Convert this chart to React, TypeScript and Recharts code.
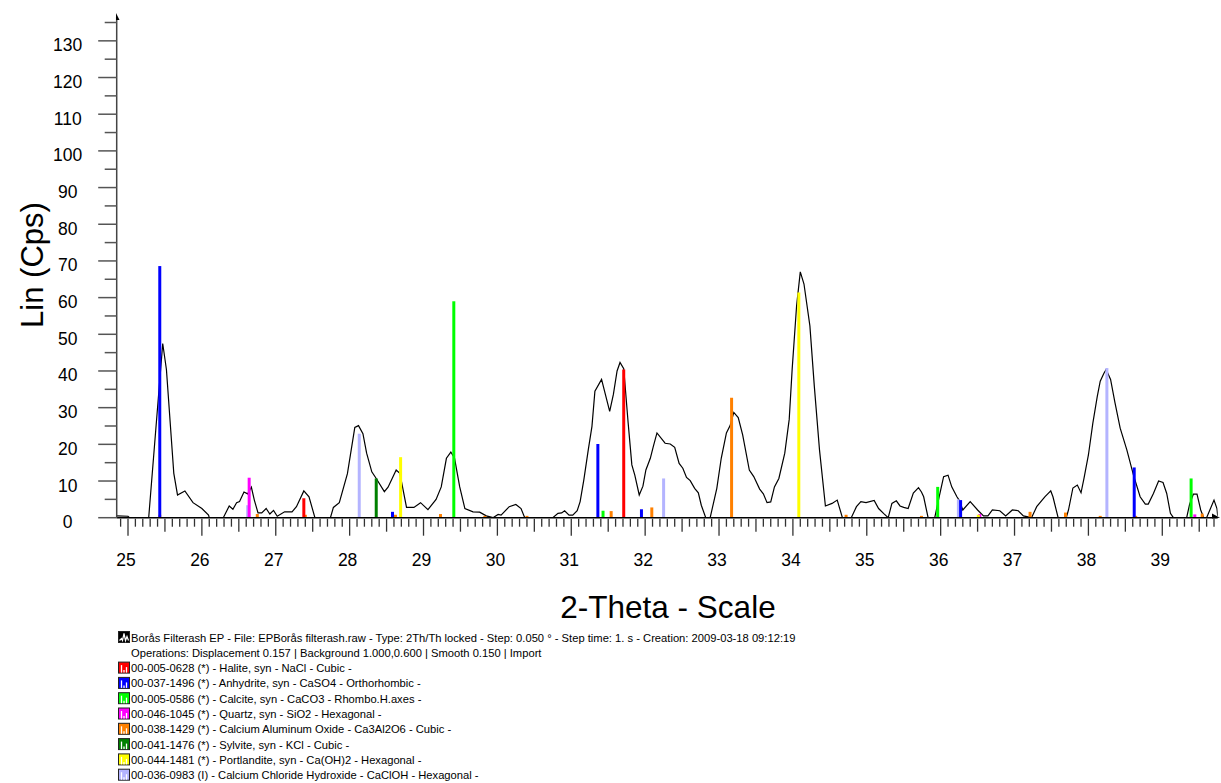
import React from 'react';
import { ComposedChart, Line, XAxis, YAxis, ReferenceLine } from 'recharts';

// ---- measured scan (2-Theta, Lin Cps) ----
const thetaValues = [
  24.85, 25.0, 25.02, 25.28, 25.47, 25.52, 25.62, 25.67, 25.77, 25.88, 26.0, 26.09, 26.1, 26.29, 26.37, 26.42,
  26.47, 26.51, 26.57, 26.62, 26.67, 26.71, 26.76, 26.81, 26.87, 26.92, 26.97, 27.02, 27.12, 27.22, 27.28,
  27.38, 27.45, 27.53, 27.74, 27.78, 27.86, 27.97, 28.07, 28.12, 28.18, 28.23, 28.3, 28.36, 28.47, 28.52,
  28.63, 28.68, 28.77, 28.87, 28.96, 29.06, 29.17, 29.24, 29.31, 29.37, 29.42, 29.49, 29.56, 29.67, 29.76,
  29.85, 29.94, 30.01, 30.05, 30.16, 30.25, 30.32, 30.37, 30.75, 30.82, 30.87, 30.91, 30.97, 31.02, 31.08,
  31.12, 31.17, 31.23, 31.28, 31.32, 31.41, 31.52, 31.57, 31.62, 31.66, 31.71, 31.77, 31.82, 31.86, 31.92,
  31.97, 32.01, 32.07, 32.11, 32.16, 32.27, 32.34, 32.4, 32.46, 32.51, 32.56, 32.61, 32.67, 32.72, 32.76,
  32.82, 32.88, 32.97, 33.03, 33.1, 33.15, 33.2, 33.26, 33.32, 33.41, 33.47, 33.55, 33.6, 33.65, 33.7,
  33.75, 33.81, 33.89, 33.95, 33.99, 34.05, 34.1, 34.15, 34.23, 34.29, 34.36, 34.44, 34.53, 34.6, 34.67,
  34.79, 34.86, 34.92, 34.99, 35.1, 35.16, 35.23, 35.29, 35.34, 35.4, 35.45, 35.5, 35.56, 35.63, 35.7,
  35.74, 35.77, 35.83, 35.92, 35.97, 36.04, 36.1, 36.15, 36.22, 36.25, 36.3, 36.4, 36.5, 36.58, 36.64,
  36.7, 36.8, 36.88, 36.97, 37.05, 37.12, 37.23, 37.3, 37.41, 37.49, 37.52, 37.59, 37.7, 37.73, 37.79,
  37.85, 37.9, 37.94, 38.0, 38.06, 38.12, 38.16, 38.21, 38.24, 38.3, 38.36, 38.43, 38.52, 38.61, 38.7,
  38.77, 38.81, 38.88, 38.95, 39.01, 39.06, 39.11, 39.15, 39.33, 39.37, 39.42, 39.47, 39.52, 39.56, 39.6,
  39.7, 39.74, 39.75,
];
const intensityValues = [
  0.5, 0.4, 0, 0, 47.5, 40.4, 12.1, 6.2, 7.3, 4.1, 2.5, 0.7, 0, 0, 3.2, 2.3,
  4.1, 4.4, 7.0, 6.5, 8.3, 4.8, 1.3, 1.3, 2.5, 1.0, 2.0, 0.4, 1.6, 1.6, 3.0,
  7.3, 5.7, 0, 0, 2.8, 4.1, 12.0, 24.6, 25.1, 22.9, 17.6, 12.5, 10.7, 7.1, 8.3,
  13.0, 12.1, 2.8, 2.8, 4.1, 2.2, 5.0, 8.4, 16.2, 17.9, 16.2, 8.4, 2.5, 1.6, 1.5,
  0.5, 0, 0.9, 0.7, 3.0, 3.6, 2.5, 0, 0, 1.2, 1.3, 1.9, 0.7, 0.7, 1.9,
  4.4, 10.3, 18.5, 24.9, 34.5, 37.7, 29.0, 33.6, 40.0, 42.3, 40.6, 25.8, 14.4, 11.6, 6.2,
  8.6, 13.0, 16.2, 19.4, 23.1, 20.3, 20.1, 19.2, 14.8, 13.5, 11.0, 10.1, 8.0, 6.8, 3.4,
  0, 0, 8.0, 16.2, 23.1, 25.1, 28.7, 27.3, 22.6, 13.0, 11.2, 7.8, 6.5, 4.1, 4.3,
  8.4, 10.7, 17.6, 26.8, 40.5, 57.8, 67.0, 63.7, 52.3, 35.8, 18.5, 3.2, 3.9, 4.8, 0,
  0, 3.0, 4.4, 4.1, 4.7, 2.5, 1.1, 0, 3.9, 4.6, 3.2, 2.8, 2.5, 6.7, 8.2,
  7.0, 5.7, 0, 0, 4.8, 11.2, 11.6, 8.4, 5.7, 4.8, 2.1, 4.4, 2.1, 0.5, 0.5,
  2.1, 1.9, 0.5, 2.1, 1.9, 0.5, 0, 3.0, 5.7, 7.3, 5.7, 0, 0, 2.1, 8.1,
  8.9, 6.8, 10.7, 17.1, 25.8, 33.1, 37.2, 39.4, 40.4, 37.7, 31.3, 24.4, 18.5, 11.6, 5.7,
  3.7, 3.7, 6.6, 10.0, 9.6, 6.6, 1.2, 0, 0, 3.7, 6.4, 6.4, 2.1, 0, 0,
  4.8, 2.5, 0.5,
];

// ---- reference patterns (stick positions / heights) ----
const halitePos = [27.38, 31.71];
const haliteInt = [5.3, 40.4];
const anhydritePos = [25.43, 28.58, 31.36, 31.95, 36.27, 38.62];
const anhydriteInt = [68.6, 1.6, 20.1, 2.3, 4.8, 13.7];
const calcitePos = [29.41, 31.43, 35.96, 39.39];
const calciteInt = [59.0, 1.9, 8.4, 10.7];
const quartzPos = [26.64, 36.53, 39.44];
const quartzInt = [10.9, 1.0, 0.9];
const caoPos = [25.43, 26.75, 27.4, 28.62, 29.23, 29.83, 30.4, 31.54, 32.09, 33.17, 34.72, 35.74, 37.21, 37.69, 38.16, 38.64, 39.54];
const caoInt = [0.8, 1.0, 0.8, 0.8, 1.0, 0.5, 0.5, 1.8, 2.8, 32.7, 0.8, 0.5, 1.6, 1.4, 0.5, 0.5, 1.1];
const sylvitePos = [28.36];
const sylviteInt = [10.7];
const portlanditePos = [28.69, 34.08, 36.51];
const portlanditeInt = [16.5, 61.4, 0.8];
const caclohPos = [26.62, 28.13, 32.25, 36.24, 38.25];
const caclohInt = [3.4, 22.9, 10.7, 5.0, 40.8];

const phaseLabels = [
  '00-005-0628 (*) - Halite, syn - NaCl - Cubic - ',
  '00-037-1496 (*) - Anhydrite, syn - CaSO4 - Orthorhombic - ',
  '00-005-0586 (*) - Calcite, syn - CaCO3 - Rhombo.H.axes - ',
  '00-046-1045 (*) - Quartz, syn - SiO2 - Hexagonal - ',
  '00-038-1429 (*) - Calcium Aluminum Oxide - Ca3Al2O6 - Cubic - ',
  '00-041-1476 (*) - Sylvite, syn - KCl - Cubic - ',
  '00-044-1481 (*) - Portlandite, syn - Ca(OH)2 - Hexagonal - ',
  '00-036-0983 (I) - Calcium Chloride Hydroxide - CaClOH - Hexagonal - ',
];
const phaseColors = ['#ff0000', '#0000ff', '#00ff00', '#ff00ff', '#ff8000', '#008000', '#ffff00', '#b4b4ff'];
const phasePositions = [halitePos, anhydritePos, calcitePos, quartzPos, caoPos, sylvitePos, portlanditePos, caclohPos];
const phaseIntensities = [haliteInt, anhydriteInt, calciteInt, quartzInt, caoInt, sylviteInt, portlanditeInt, caclohInt];
// drawing order (back to front)
const drawOrder = [7, 4, 0, 1, 2, 3, 5, 6];

const scanTitle = 'Borås Filterash EP - File: EPBorås filterash.raw - Type: 2Th/Th locked - Step: 0.050 ° - Step time: 1. s - Creation: 2009-03-18 09:12:19';
const scanOps = 'Operations: Displacement 0.157 | Background 1.000,0.600 | Smooth 0.150 | Import';

const xTickLabels = [25, 26, 27, 28, 29, 30, 31, 32, 33, 34, 35, 36, 37, 38, 39];
const yTickLabels = [0, 10, 20, 30, 40, 50, 60, 70, 80, 90, 100, 110, 120, 130];

const X_MIN = 24.847;
const X_MAX = 39.75;
const Y_MAX = 136.5;

const xTicks: number[] = [];
for (let k = 249; k <= 397; k++) xTicks.push(k / 10);
const yTicks: number[] = [];
for (let k = 0; k <= 27; k++) yTicks.push(k * 5);

const curveData = thetaValues.map((t, i) => ({ theta: t, cps: intensityValues[i] }));

const FONT = '"Liberation Sans", Arial, Helvetica, sans-serif';

const XTick = (props: any) => {
  const { x, y, payload } = props;
  const k = Math.round(payload.value * 10);
  const isMajor = k % 10 === 0;
  const isMid = !isMajor && k % 5 === 0;
  const len = isMajor ? 18 : isMid ? 14 : 9;
  return (
    <g>
      <line x1={x} x2={x} y1={y + 1} y2={y + len} stroke="#333" strokeWidth={1.3} />
      {isMajor && xTickLabels.includes(k / 10) && (
        <text x={x - 2} y={y + 48} textAnchor="middle" fontSize={17.5} fontFamily={FONT} fill="#000">
          {k / 10}
        </text>
      )}
    </g>
  );
};

const YTick = (props: any) => {
  const { x, y, payload } = props;
  const v = payload.value;
  const isMajor = v % 10 === 0;
  const len = isMajor ? 18.5 : 12;
  return (
    <g>
      <line x1={x - len} x2={x} y1={y} y2={y} stroke="#555" strokeWidth={1.5} />
      {isMajor && yTickLabels.includes(v) && (
        <text x={67.7} y={y + 10.5} textAnchor="middle" fontSize={17.5} fontFamily={FONT} fill="#000">
          {v}
        </text>
      )}
    </g>
  );
};

const LegendIcon = ({ y, color, scan }: { y: number; color: string; scan?: boolean }) => (
  <g>
    <rect x={118.5} y={y - 6} width={11} height={11} fill={color} stroke="#222" strokeWidth={1} />
    {scan ? (
      <polyline
        points={`${119.5},${y + 3} ${121.5},${y + 1} ${122.5},${y + 3} ${124},${y - 4} ${125.5},${y + 3} ${127},${y - 1} ${128.5},${y + 3}`}
        fill="none"
        stroke="#fff"
        strokeWidth={1.2}
      />
    ) : (
      <g stroke="#fff" strokeWidth={1.3}>
        <line x1={121.5} x2={121.5} y1={y - 3} y2={y + 4.5} />
        <line x1={124} x2={124} y1={y + 2} y2={y + 4.5} />
        <line x1={126.5} x2={126.5} y1={y - 1} y2={y + 4.5} />
      </g>
    )}
  </g>
);

export default function App() {
  const legendY0 = 637.5;
  const legendStep = 15.3;
  return (
    <div style={{ position: 'absolute', left: 0, top: 0, width: 1221, height: 783, background: '#fff', overflow: 'hidden' }}>
      <ComposedChart
        width={1221}
        height={783}
        data={curveData}
        margin={{ top: 17, right: 3.3, left: 115.7, bottom: 264.3 }}
      >
        <XAxis
          dataKey="theta"
          type="number"
          domain={[X_MIN, X_MAX]}
          allowDataOverflow
          ticks={xTicks}
          interval={0}
          tick={(p: any) => <XTick {...p} />}
          tickLine={false}
          tickSize={0}
          tickMargin={0}
          height={1}
          axisLine={{ stroke: '#000', strokeWidth: 1.5 }}
        />
        <YAxis
          type="number"
          domain={[0, Y_MAX]}
          allowDataOverflow
          ticks={yTicks}
          interval={0}
          tick={(p: any) => <YTick {...p} />}
          tickLine={false}
          tickSize={0}
          tickMargin={0}
          width={1}
          axisLine={{ stroke: '#444', strokeWidth: 1.5 }}
        />
        <Line
          type="linear"
          dataKey="cps"
          stroke="#000"
          strokeWidth={1.2}
          dot={false}
          activeDot={false}
          isAnimationActive={false}
        />
        {drawOrder.map((pi) =>
          phasePositions[pi].map((pos, j) => (
            <ReferenceLine
              key={`s-${pi}-${j}`}
              segment={[
                { x: pos, y: 0 },
                { x: pos, y: phaseIntensities[pi][j] },
              ]}
              stroke={phaseColors[pi]}
              strokeWidth={3}
              ifOverflow="visible"
            />
          ))
        )}
      </ComposedChart>
      <svg
        width={1221}
        height={783}
        style={{ position: 'absolute', left: 0, top: 0, pointerEvents: 'none' }}
      >
        {/* axis arrows */}
        <polygon points="116,13 119.5,20 116,20" fill="#000" />
        <polygon points="1212,513.5 1220,517.7 1212,518.5" fill="#000" />
        {/* axis titles */}
        <text
          x={0}
          y={0}
          transform="translate(43,265) rotate(-90)"
          textAnchor="middle"
          fontSize={31}
          fontFamily={FONT}
          fill="#000"
        >
          Lin (Cps)
        </text>
        <text x={668} y={618} textAnchor="middle" fontSize={31.5} fontFamily={FONT} fill="#000">
          2-Theta - Scale
        </text>
        {/* legend */}
        <LegendIcon y={legendY0} color="#000" scan />
        <text x={131} y={legendY0 + 4} fontSize={11.2} fontFamily={FONT} fill="#000">
          {scanTitle}
        </text>
        <text x={131} y={legendY0 + legendStep + 4} fontSize={11.2} fontFamily={FONT} fill="#000">
          {scanOps}
        </text>
        {phaseLabels.map((lbl, i) => {
          const cy = legendY0 + legendStep * (i + 2);
          return (
            <g key={lbl}>
              <LegendIcon y={cy} color={phaseColors[i]} />
              <text x={131} y={cy + 4} fontSize={11.2} fontFamily={FONT} fill="#000">
                {lbl}
              </text>
            </g>
          );
        })}
      </svg>
    </div>
  );
}
